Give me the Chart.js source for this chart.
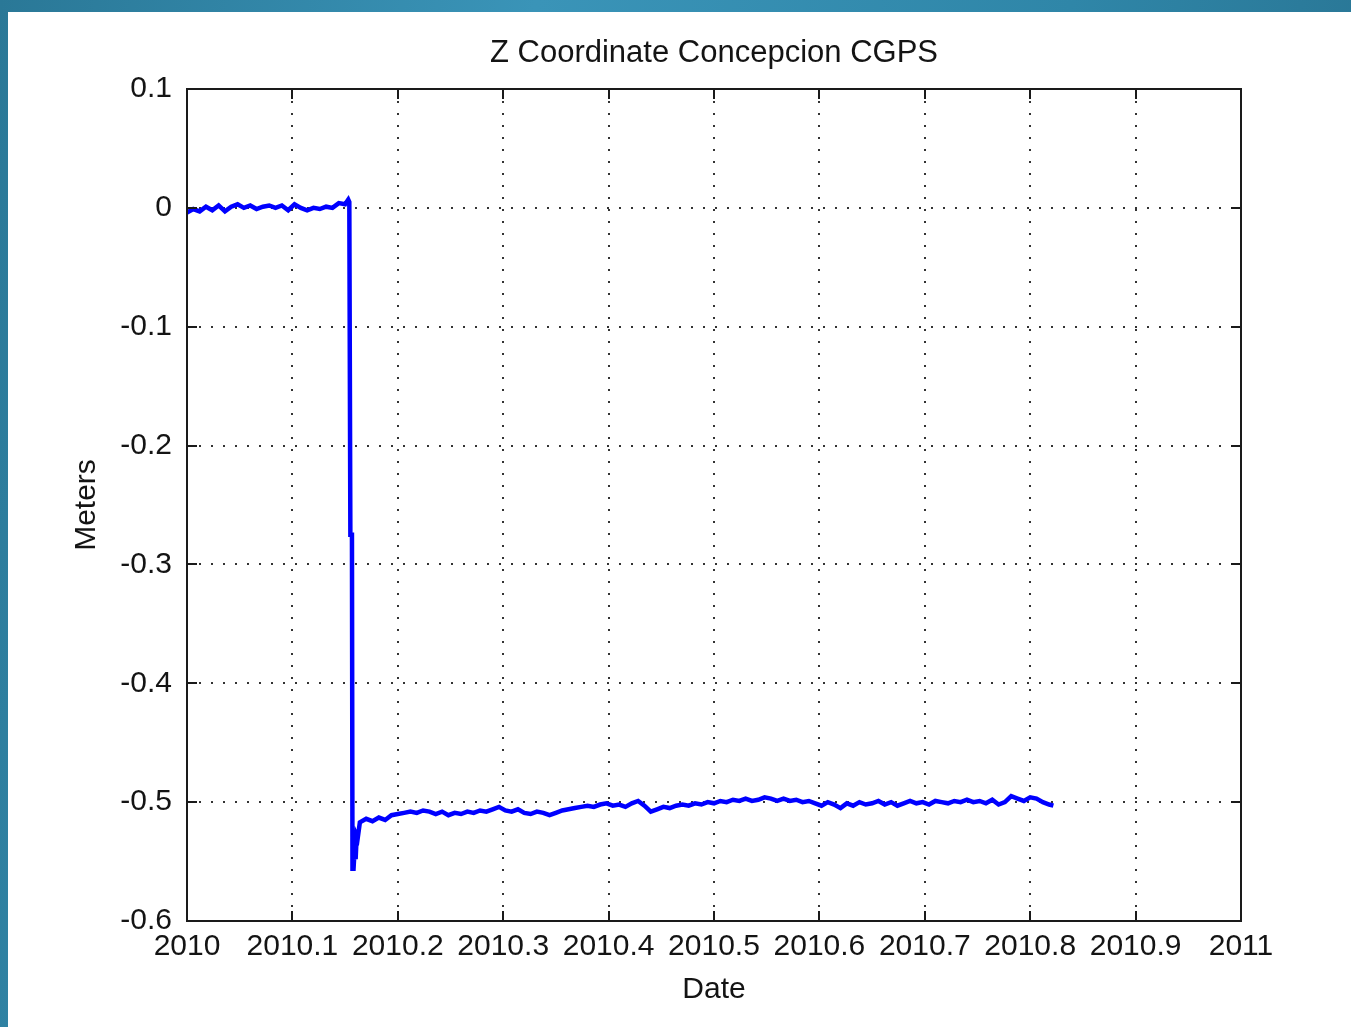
<!DOCTYPE html>
<html>
<head>
<meta charset="utf-8">
<title>Z Coordinate Concepcion CGPS</title>
<script src="https://cdn.jsdelivr.net/npm/chart.js@4/dist/chart.umd.min.js"></script>
<style>
    html, body { margin: 0; padding: 0; }
    body {
        width: 1351px; height: 1027px; overflow: hidden; position: relative;
        background: linear-gradient(100deg, #2a7897 0%, #3a94b8 35%, #2f86a8 70%, #27708e 100%);
    }
    #panel { position: absolute; left: 8px; top: 12px; right: 0; bottom: 0; background: #fff; }
    #zChart { position: absolute; left: 0; top: 0; }
</style>
</head>
<body>
<div id="panel"></div>
<canvas id="zChart" width="1351" height="1027"></canvas>
<script>
// decimal year of each sample
const years = [
    2010.000, 2010.006, 2010.012, 2010.018, 2010.024, 2010.030, 2010.036, 2010.042, 2010.048, 2010.054,
    2010.060, 2010.066, 2010.072, 2010.078, 2010.084, 2010.090, 2010.096, 2010.102, 2010.108, 2010.114,
    2010.120, 2010.126, 2010.132, 2010.138, 2010.144, 2010.150, 2010.153, 2010.154,
    // earthquake step
    2010.155, 2010.1565, 2010.157, 2010.158, 2010.159, 2010.160, 2010.161, 2010.162,
    2010.164, 2010.170, 2010.176, 2010.182, 2010.188, 2010.194, 2010.200, 2010.206, 2010.212, 2010.218,
    2010.224, 2010.230, 2010.236, 2010.242, 2010.248, 2010.254, 2010.260, 2010.266, 2010.272, 2010.278,
    2010.284, 2010.290, 2010.296, 2010.302, 2010.308, 2010.314, 2010.320, 2010.326, 2010.332, 2010.338,
    2010.344, 2010.350, 2010.356, 2010.362, 2010.368, 2010.374, 2010.380, 2010.386, 2010.392, 2010.398,
    2010.404, 2010.410, 2010.416, 2010.422, 2010.428, 2010.434, 2010.440, 2010.446, 2010.452, 2010.458,
    2010.464, 2010.470, 2010.476, 2010.482, 2010.488, 2010.494, 2010.500, 2010.506, 2010.512, 2010.518,
    2010.524, 2010.530, 2010.536, 2010.542, 2010.548, 2010.554, 2010.560, 2010.566, 2010.572, 2010.578,
    2010.584, 2010.590, 2010.596, 2010.602, 2010.608, 2010.614, 2010.620, 2010.626, 2010.632, 2010.638,
    2010.644, 2010.650, 2010.656, 2010.662, 2010.668, 2010.674, 2010.680, 2010.686, 2010.692, 2010.698,
    2010.704, 2010.710, 2010.716, 2010.722, 2010.728, 2010.734, 2010.740, 2010.746, 2010.752, 2010.758,
    2010.764, 2010.770, 2010.776, 2010.782, 2010.788, 2010.794, 2010.800, 2010.806, 2010.812, 2010.818,
    2010.822
];

// Z offset in meters, same order as years
const zMeters = [
    -0.004, -0.001, -0.003, 0.001, -0.002, 0.002, -0.003, 0.001, 0.003, 0.000,
    0.002, -0.001, 0.001, 0.002, 0.000, 0.002, -0.002, 0.003, 0.000, -0.002,
    0.000, -0.001, 0.001, 0.000, 0.004, 0.003, 0.007, 0.005,
    -0.275, -0.275, -0.556, -0.556, -0.540, -0.548, -0.528, -0.530,
    -0.517, -0.514, -0.516, -0.513, -0.515, -0.511, -0.510, -0.509, -0.508, -0.509,
    -0.507, -0.508, -0.510, -0.508, -0.511, -0.509, -0.510, -0.508, -0.509, -0.507,
    -0.508, -0.506, -0.504, -0.507, -0.508, -0.506, -0.509, -0.510, -0.508, -0.509,
    -0.511, -0.509, -0.507, -0.506, -0.505, -0.504, -0.503, -0.504, -0.502, -0.501,
    -0.503, -0.502, -0.504, -0.501, -0.499, -0.503, -0.508, -0.506, -0.504, -0.505,
    -0.503, -0.502, -0.503, -0.501, -0.502, -0.500, -0.501, -0.499, -0.500, -0.498,
    -0.499, -0.497, -0.499, -0.498, -0.496, -0.497, -0.499, -0.497, -0.499, -0.498,
    -0.500, -0.499, -0.501, -0.503, -0.500, -0.502, -0.505, -0.501, -0.503, -0.500,
    -0.502, -0.501, -0.499, -0.502, -0.500, -0.503, -0.501, -0.499, -0.501, -0.500,
    -0.502, -0.499, -0.500, -0.501, -0.499, -0.500, -0.498, -0.500, -0.499, -0.501,
    -0.498, -0.502, -0.500, -0.495, -0.497, -0.499, -0.496, -0.497, -0.500, -0.502,
    -0.503
];

const xRange = [2010, 2011];
const yRange = [-0.6, 0.1];
const tickStep = 0.1;

const fontFamily = '"Liberation Sans", Arial, sans-serif';
const textColor = '#141414';

function fmt(v) {
    return parseFloat(v.toFixed(1)).toString();
}

// matlab style box with inward ticks
const boxPlugin = {
    id: 'box',
    afterDraw(chart) {
        const { ctx, chartArea: a, scales: { x, y } } = chart;
        ctx.save();
        ctx.strokeStyle = '#1a1a1a';
        ctx.lineWidth = 2;
        ctx.beginPath();
        x.ticks.forEach(t => {
            const px = Math.round(x.getPixelForValue(t.value));
            ctx.moveTo(px, a.bottom); ctx.lineTo(px, a.bottom - 10);
            ctx.moveTo(px, a.top); ctx.lineTo(px, a.top + 10);
        });
        y.ticks.forEach(t => {
            const py = Math.round(y.getPixelForValue(t.value));
            ctx.moveTo(a.left, py); ctx.lineTo(a.left + 10, py);
            ctx.moveTo(a.right, py); ctx.lineTo(a.right - 10, py);
        });
        ctx.stroke();
        ctx.strokeRect(a.left, a.top, a.right - a.left, a.bottom - a.top);
        ctx.restore();
    }
};

const ctx = document.getElementById('zChart').getContext('2d');
new Chart(ctx, {
    type: 'line',
    data: {
        datasets: [{
            label: 'Z',
            data: years.map((yr, i) => ({ x: yr, y: zMeters[i] })),
            borderColor: '#0000ff',
            borderWidth: 4.5,
            pointRadius: 0,
            tension: 0,
            fill: false
        }]
    },
    options: {
        responsive: false,
        animation: false,
        layout: { padding: { left: 0, top: 14, right: 110, bottom: 0 } },
        plugins: {
            legend: { display: false },
            tooltip: { enabled: false },
            title: {
                display: true,
                fullSize: false,
                text: 'Z Coordinate Concepcion CGPS',
                color: textColor,
                font: { family: fontFamily, size: 31, weight: 'normal' },
                padding: { top: 21, bottom: 16.8 }
            }
        },
        scales: {
            x: {
                type: 'linear',
                min: xRange[0],
                max: xRange[1],
                ticks: {
                    stepSize: tickStep,
                    autoSkip: false,
                    maxRotation: 0,
                    padding: 8,
                    color: textColor,
                    font: { family: fontFamily, size: 30 },
                    callback: v => fmt(v)
                },
                grid: { color: '#333', lineWidth: 2, drawTicks: false },
                border: { display: false, dash: [2, 10] },
                title: {
                    display: true,
                    text: 'Date',
                    color: textColor,
                    font: { family: fontFamily, size: 30 },
                    padding: { top: 0, bottom: 19 }
                },
                afterFit: s => { s.height = 106; }
            },
            y: {
                min: yRange[0],
                max: yRange[1],
                ticks: {
                    stepSize: tickStep,
                    padding: 15,
                    color: textColor,
                    font: { family: fontFamily, size: 30 },
                    callback: v => fmt(v)
                },
                grid: { color: '#333', lineWidth: 2, drawTicks: false },
                border: { display: false, dash: [2, 10] },
                title: {
                    display: true,
                    text: 'Meters',
                    color: textColor,
                    font: { family: fontFamily, size: 30 },
                    padding: { top: 69, bottom: 0 }
                },
                afterFit: s => { s.width = 187; }
            }
        }
    },
    plugins: [boxPlugin]
});
</script>
</body>
</html>
